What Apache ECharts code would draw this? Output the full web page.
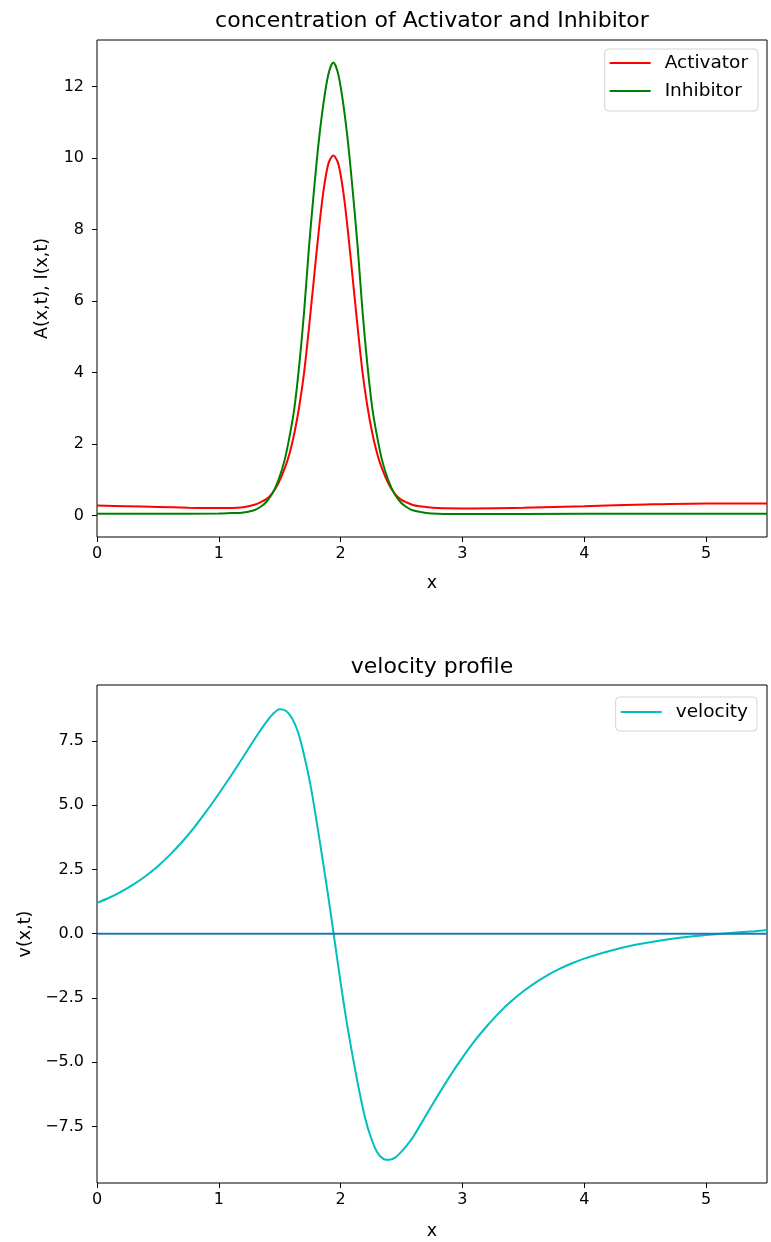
<!DOCTYPE html>
<html>
<head>
<meta charset="utf-8">
<script src="https://cdn.jsdelivr.net/npm/echarts@6/dist/echarts.min.js"></script>
<style>
  html, body { margin: 0; padding: 0; background: #fff; }
  #chart { width: 771px; height: 1242px; }
</style>
</head>
<body>
<div id="chart"></div>
<script>
// values
const activatorX = [0, 0.25, 0.5, 0.75, 1.0, 1.1, 1.2, 1.3, 1.34, 1.39, 1.44, 1.49, 1.54, 1.58, 1.62, 1.66, 1.70, 1.74, 1.78, 1.82, 1.86, 1.90, 1.94, 1.98, 2.02, 2.06, 2.10, 2.14, 2.18, 2.22, 2.26, 2.30, 2.34, 2.39, 2.44, 2.49, 2.54, 2.6, 2.7, 2.8, 3.0, 3.5, 4.0, 4.5, 5.0, 5.5];
const activatorY = [0.28, 0.26, 0.24, 0.22, 0.21, 0.21, 0.23, 0.31, 0.37, 0.46, 0.63, 0.91, 1.31, 1.73, 2.30, 3.05, 4.00, 5.25, 6.60, 7.95, 9.10, 9.85, 10.07, 9.85, 9.10, 7.95, 6.60, 5.25, 4.00, 3.05, 2.30, 1.73, 1.31, 0.91, 0.63, 0.46, 0.37, 0.29, 0.24, 0.21, 0.20, 0.22, 0.26, 0.31, 0.34, 0.34];

const inhibitorX = [0, 0.5, 1.0, 1.1, 1.19, 1.29, 1.34, 1.39, 1.44, 1.49, 1.54, 1.58, 1.62, 1.66, 1.70, 1.74, 1.78, 1.82, 1.86, 1.90, 1.94, 1.98, 2.02, 2.06, 2.10, 2.14, 2.18, 2.22, 2.26, 2.30, 2.34, 2.39, 2.44, 2.49, 2.54, 2.59, 2.69, 2.8, 3.0, 4.0, 5.0, 5.5];
const inhibitorY = [0.05, 0.05, 0.06, 0.07, 0.08, 0.15, 0.24, 0.38, 0.62, 1.00, 1.55, 2.20, 3.00, 4.20, 5.70, 7.50, 9.05, 10.45, 11.55, 12.35, 12.67, 12.35, 11.55, 10.45, 9.05, 7.50, 5.70, 4.20, 3.00, 2.20, 1.55, 1.00, 0.62, 0.38, 0.24, 0.15, 0.08, 0.05, 0.04, 0.05, 0.05, 0.05];

const velocityX = [0, 0.1, 0.2, 0.3, 0.4, 0.5, 0.6, 0.7, 0.8, 0.9, 1.0, 1.1, 1.2, 1.3, 1.4, 1.45, 1.5, 1.55, 1.6, 1.65, 1.7, 1.75, 1.8, 1.85, 1.9, 1.95, 2.0, 2.05, 2.1, 2.15, 2.2, 2.25, 2.3, 2.35, 2.4, 2.45, 2.5, 2.55, 2.6, 2.7, 2.8, 2.9, 3.0, 3.1, 3.2, 3.3, 3.4, 3.5, 3.6, 3.7, 3.8, 3.9, 4.0, 4.2, 4.4, 4.6, 4.8, 5.0, 5.2, 5.4, 5.5];
const velocityY = [1.20, 1.40, 1.64, 1.92, 2.25, 2.63, 3.08, 3.58, 4.15, 4.78, 5.45, 6.15, 6.88, 7.62, 8.30, 8.58, 8.74, 8.68, 8.40, 7.85, 6.95, 5.85, 4.45, 2.95, 1.40, -0.25, -1.90, -3.45, -4.80, -6.05, -7.15, -7.95, -8.50, -8.76, -8.80, -8.70, -8.48, -8.20, -7.87, -7.07, -6.28, -5.52, -4.82, -4.17, -3.60, -3.08, -2.63, -2.24, -1.90, -1.61, -1.36, -1.15, -0.97, -0.68, -0.45, -0.28, -0.15, -0.05, 0.03, 0.10, 0.15];

const zeroX = [0, 5.5];
const zeroY = [0, 0];

const xTicks = [0, 1, 2, 3, 4, 5];
const concTicks = [0, 2, 4, 6, 8, 10, 12];
const velTicks = [-7.5, -5.0, -2.5, 0.0, 2.5, 5.0, 7.5];

const pairs = (xs, ys) => xs.map((x, i) => [x, ys[i]]);
const font = "DejaVu Sans";

const chart = echarts.init(document.getElementById("chart"), null, { renderer: "canvas" });

function xAxisFor(gridIndex, gap) {
  return {
    type: "value",
    gridIndex: gridIndex,
    min: 0,
    max: 5.5,
    name: "x",
    nameLocation: "middle",
    nameGap: gap,
    nameTextStyle: { color: "#000", fontSize: 17.5, fontFamily: font },
    axisLine: { show: false, onZero: false },
    axisTick: { show: true, customValues: xTicks, length: 5, lineStyle: { color: "#000" } },
    axisLabel: { customValues: xTicks, color: "#000", fontSize: 16, fontFamily: font, margin: 9 },
    splitLine: { show: false },
  };
}

function yAxisFor(gridIndex, min, max, ticks, name, gap, fmt) {
  return {
    type: "value",
    gridIndex: gridIndex,
    min: min,
    max: max,
    name: name,
    nameLocation: "middle",
    nameGap: gap,
    nameRotate: 90,
    nameTextStyle: { color: "#000", fontSize: 17.5, fontFamily: font },
    axisLine: { show: false, onZero: false },
    axisTick: { show: true, customValues: ticks, length: 5, lineStyle: { color: "#000" } },
    axisLabel: { customValues: ticks, color: "#000", fontSize: 16, fontFamily: font, margin: 13, formatter: fmt },
    splitLine: { show: false },
  };
}

const legendBase = {
  orient: "vertical",
  icon: "rect",
  itemWidth: 41,
  itemHeight: 2,
  itemGap: 8,
  backgroundColor: "#fff",
  borderColor: "#d4d4d4",
  borderWidth: 1,
  borderRadius: 4,
  textStyle: { color: "#000", fontSize: 18.5, fontFamily: font, lineHeight: 20, padding: [0, 0, 0, 9] },
};

const option = {
  animation: false,
  backgroundColor: "#fff",
  title: [
    {
      text: "concentration of Activator and Inhibitor",
      left: 432,
      textAlign: "center",
      top: 10,
      padding: 0,
      textStyle: { color: "#000", fontSize: 22, fontWeight: "normal", fontFamily: font },
    },
    {
      text: "velocity profile",
      left: 432,
      textAlign: "center",
      top: 656,
      padding: 0,
      textStyle: { color: "#000", fontSize: 22, fontWeight: "normal", fontFamily: font },
    },
  ],
  legend: [
    Object.assign({}, legendBase, {
      data: ["Activator", "Inhibitor"],
      right: 13,
      top: 49,
      padding: [4, 10, 10, 5],
    }),
    Object.assign({}, legendBase, {
      data: ["velocity"],
      right: 14,
      top: 697,
      padding: [5, 9, 9, 5],
    }),
  ],
  grid: [
    { left: 97, top: 40, width: 670, height: 497, show: true, borderColor: "#000", borderWidth: 1, backgroundColor: "transparent" },
    { left: 97, top: 685, width: 670, height: 498, show: true, borderColor: "#000", borderWidth: 1, backgroundColor: "transparent" },
  ],
  xAxis: [xAxisFor(0, 37), xAxisFor(1, 39)],
  yAxis: [
    yAxisFor(0, -0.6, 13.3, concTicks, "A(x,t), I(x,t)", 46, (v) => String(Math.round(v))),
    yAxisFor(1, -9.7, 9.68, velTicks, "v(x,t)", 60, (v) => v.toFixed(1).replace("-", "\u2212")),
  ],
  series: [
    {
      name: "Activator",
      type: "line",
      xAxisIndex: 0,
      yAxisIndex: 0,
      data: pairs(activatorX, activatorY),
      showSymbol: false,
      symbol: "none",
      smooth: 0.3,
      color: "#ff0000",
      lineStyle: { color: "#ff0000", width: 2 },
    },
    {
      name: "Inhibitor",
      type: "line",
      xAxisIndex: 0,
      yAxisIndex: 0,
      data: pairs(inhibitorX, inhibitorY),
      showSymbol: false,
      symbol: "none",
      smooth: 0.3,
      color: "#008000",
      lineStyle: { color: "#008000", width: 2 },
    },
    {
      name: "velocity",
      type: "line",
      xAxisIndex: 1,
      yAxisIndex: 1,
      data: pairs(velocityX, velocityY),
      showSymbol: false,
      symbol: "none",
      smooth: 0.3,
      color: "#00bfbf",
      lineStyle: { color: "#00bfbf", width: 2 },
    },
    {
      name: "zero",
      type: "line",
      xAxisIndex: 1,
      yAxisIndex: 1,
      data: pairs(zeroX, zeroY),
      showSymbol: false,
      symbol: "none",
      color: "#1f77b4",
      lineStyle: { color: "#1f77b4", width: 2 },
    },
  ],
};

chart.setOption(option);
</script>
</body>
</html>
